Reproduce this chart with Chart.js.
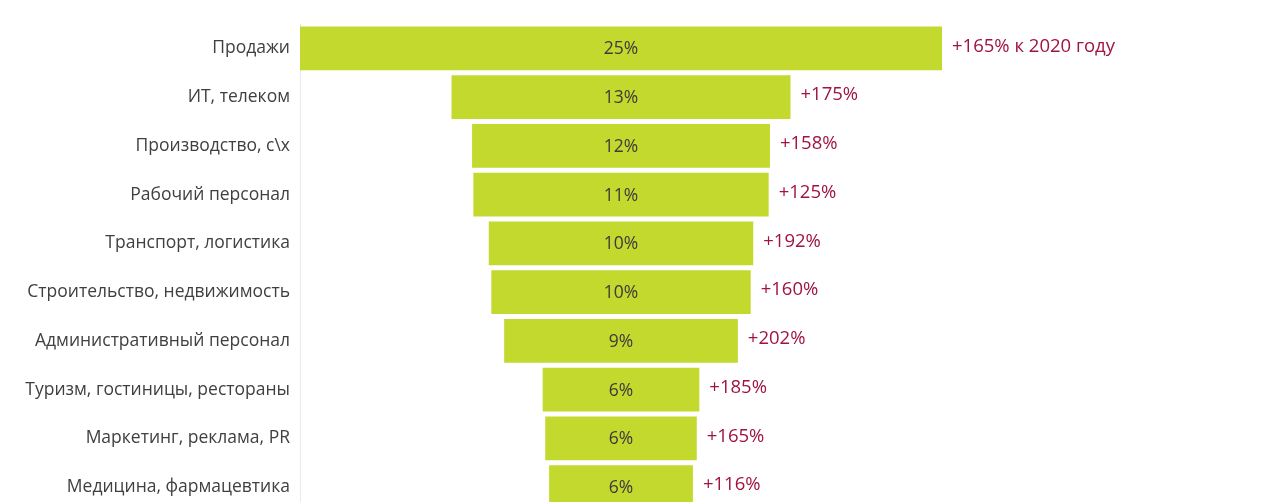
<!DOCTYPE html>
<html>
<head>
<meta charset="utf-8">
<script src="https://cdn.jsdelivr.net/npm/chart.js@4.4.1/dist/chart.umd.min.js"></script>
<style>
  html, body { margin: 0; padding: 0; background: #fff; overflow: hidden; }
</style>
</head>
<body>
<canvas id="myChart" width="1280" height="532"></canvas>
<script>
// отрасли
const categories = [
    'Продажи',
    'ИТ, телеком',
    'Производство, с\\х',
    'Рабочий персонал',
    'Транспорт, логистика',
    'Строительство, недвижимость',
    'Административный персонал',
    'Туризм, гостиницы, рестораны',
    'Маркетинг, реклама, PR',
    'Медицина, фармацевтика'
];

// доля вакансий, % (ширина воронки)
const shares = [25, 13.2, 11.6, 11.5, 10.3, 10.1, 9.1, 6.1, 5.9, 5.6];
const shareLabels = ['25%', '13%', '12%', '11%', '10%', '10%', '9%', '6%', '6%', '6%'];

// рост к 2020 году
const growthLabels = ['+165% к 2020 году', '+175%', '+158%', '+125%', '+192%', '+160%', '+202%', '+185%', '+165%', '+116%'];

const FONT = '"Open Sans", "Noto Sans", sans-serif';

const labelsPlugin = {
    id: 'funnelLabels',
    afterDatasetsDraw(chart) {
        const c = chart.ctx;
        const meta = chart.getDatasetMeta(0);
        c.save();
        c.textBaseline = 'middle';
        meta.data.forEach((bar, i) => {
            const left = Math.min(bar.x, bar.base);
            const right = Math.max(bar.x, bar.base);
            c.font = '17.5px ' + FONT;
            c.fillStyle = '#3b3b3b';
            c.textAlign = 'center';
            c.fillText(shareLabels[i], (left + right) / 2, bar.y + 1);
            c.font = '18.5px ' + FONT;
            c.fillStyle = '#a0143f';
            c.textAlign = 'left';
            c.fillText(growthLabels[i], right + 10, bar.y - 2);
        });
        c.restore();
    }
};

const ctx = document.getElementById('myChart').getContext('2d');
const myChart = new Chart(ctx, {
    type: 'bar',
    data: {
        labels: categories,
        datasets: [{
            data: shares.map(v => [-v / 2, v / 2]),
            backgroundColor: '#c4d92e',
            borderWidth: 0,
            barPercentage: 0.9,
            categoryPercentage: 1
        }]
    },
    options: {
        indexAxis: 'y',
        responsive: false,
        animation: false,
        layout: { padding: { top: 24, bottom: 9, left: 0, right: 0 } },
        plugins: {
            legend: { display: false },
            tooltip: { enabled: false }
        },
        scales: {
            x: {
                display: false,
                min: -12.5,
                max: 25.66
            },
            y: {
                grid: { display: false, drawTicks: false },
                border: { display: true, color: '#ebebeb', width: 1 },
                ticks: {
                    color: '#404040',
                    padding: 10,
                    font: { family: FONT, size: 17.5 }
                },
                afterFit(scale) { scale.width = 300; }
            }
        }
    },
    plugins: [labelsPlugin]
});
</script>
</body>
</html>
